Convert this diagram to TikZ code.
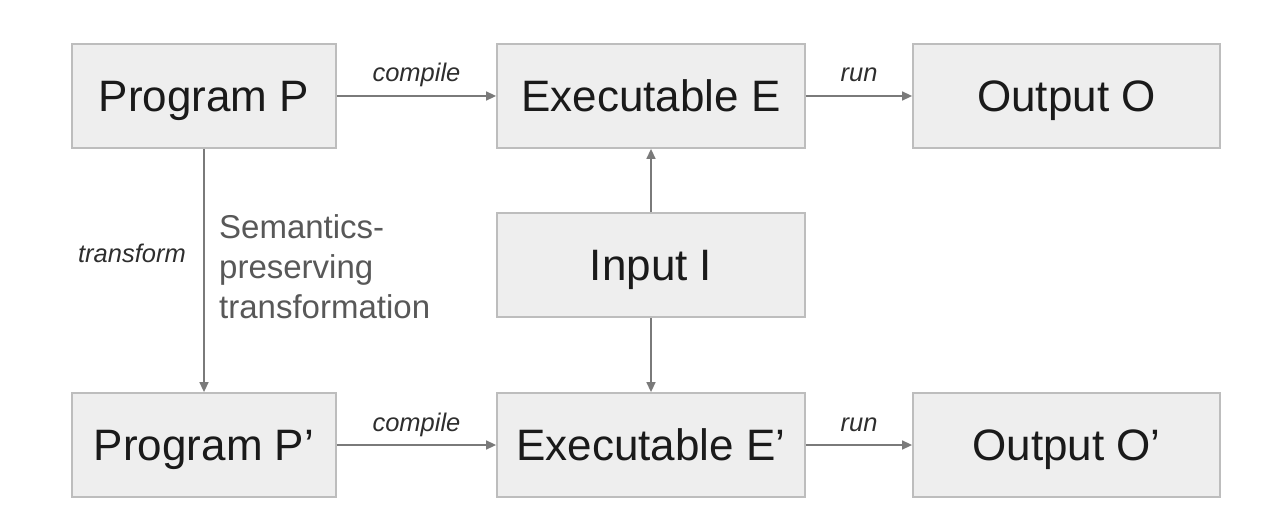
\documentclass[tikz,border=0pt]{standalone}
\usepackage{fontspec}
\setmainfont{Liberation Sans}
\usetikzlibrary{arrows.meta}
\definecolor{boxfill}{HTML}{EEEEEE}
\definecolor{boxline}{HTML}{BDBDBD}
\definecolor{arrowgray}{HTML}{7A7A7A}
\definecolor{txt}{HTML}{1A1A1A}
\definecolor{labtxt}{HTML}{2E2E2E}
\definecolor{semtxt}{HTML}{585858}
\tikzset{
  box/.style={draw=boxline, fill=boxfill, line width=1.8pt, minimum width=264pt, minimum height=104pt, inner sep=0pt, font=\fontsize{44}{52}\selectfont, text=txt, text height=31.5pt, text depth=0pt},
  wbox/.style={box, minimum width=308pt},
  conn/.style={draw=arrowgray, line width=1.5pt, -{Triangle[length=10pt,width=9pt]}},
  elab/.style={font=\fontsize{25.5}{30}\selectfont\itshape, text=labtxt, inner sep=0pt},
}
\begin{document}
\begin{tikzpicture}[x=1pt,y=-1pt]
\useasboundingbox (0,0) rectangle (1280,532);
\node[box] (P) at (204,96) {Program P};
\node[wbox] (E) at (651,96) {Executable E};
\node[wbox, minimum width=307pt] (O) at (1066.5,96) {Output O};
\node[wbox] (I) at (651,265) {Input I};
\node[box] (P2) at (204,445) {Program P’};
\node[wbox] (E2) at (651,445) {Executable E’};
\node[wbox, minimum width=307pt] (O2) at (1066.5,445) {Output O’};
\draw[conn] (P) -- node[elab, anchor=base, yshift=14pt] {compile} (E);
\draw[conn] (E) -- node[elab, anchor=base, yshift=14pt] {run} (O);
\draw[conn] (P2) -- node[elab, anchor=base, yshift=14pt] {compile} (E2);
\draw[conn] (E2) -- node[elab, anchor=base, yshift=14pt] {run} (O2);
\draw[conn] (I) -- (E);
\draw[conn] (I) -- (E2);
\draw[conn] (P) -- (P2);
\node[elab, anchor=base east] (T) at (186,262) {transform};
\node[anchor=base west, align=left, font=\fontsize{33}{40}\selectfont, text=semtxt, inner sep=0pt] (S) at (219,318) {Semantics-\\preserving\\transformation};
\end{tikzpicture}
\end{document}
